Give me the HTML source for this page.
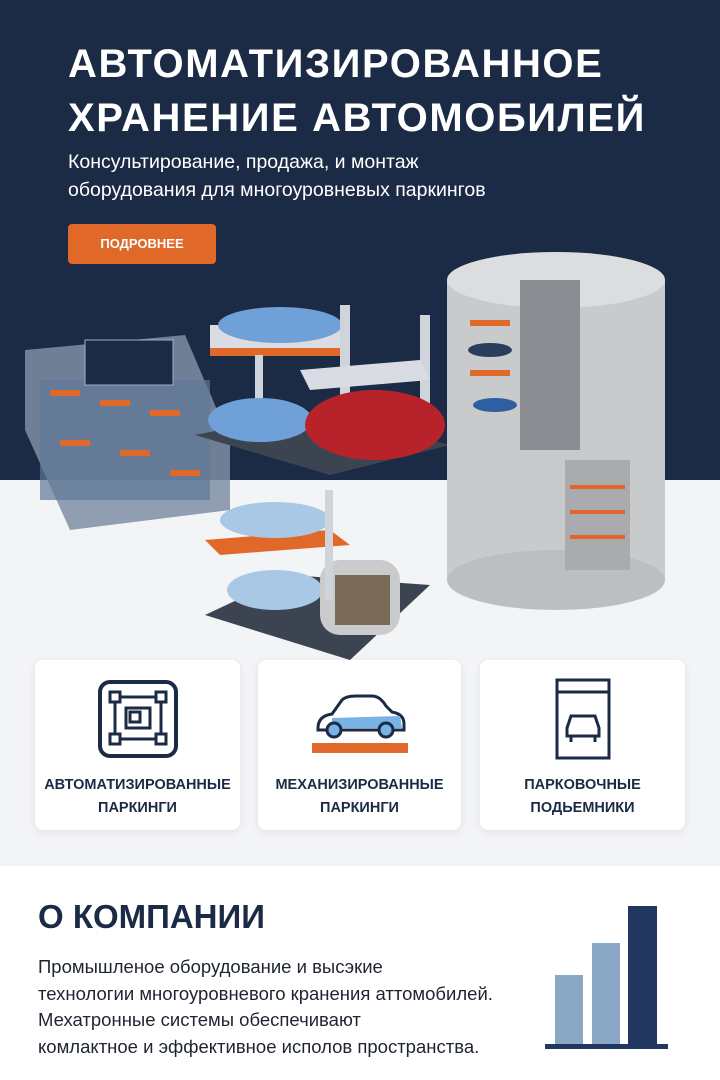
<!DOCTYPE html>
<html><head><meta charset="utf-8"><style>
*{margin:0;padding:0;box-sizing:border-box}
body{width:720px;height:1080px;overflow:hidden;font-family:"Liberation Sans","Noto Sans CJK SC",sans-serif;background:#fff;position:relative}
.hero{position:absolute;left:0;top:0;width:720px;height:480px;background:#1b2a45}
.mid{position:absolute;left:0;top:480px;width:720px;height:386px;background:#f3f4f6}
h1{position:absolute;left:68px;top:37px;color:#fff;font-size:40px;line-height:54px;font-weight:bold;letter-spacing:1.6px;white-space:nowrap}
.sub{position:absolute;left:68px;top:148px;color:#fff;font-size:19.5px;line-height:28px;white-space:nowrap}
.btn{position:absolute;left:68px;top:224px;width:148px;height:40px;background:#e0692a;border-radius:4px;color:#fff;font-size:13px;font-weight:bold;text-align:center;line-height:40px}
.card{position:absolute;top:660px;height:170px;background:#fff;border-radius:8px;box-shadow:0 2px 8px rgba(0,0,0,.08);text-align:center}
.card p{position:absolute;left:0;right:0;top:114px;font-size:14.5px;font-weight:bold;color:#1b2a45;line-height:23px}
.card svg{position:absolute;left:50%;transform:translateX(-50%);top:18px}
h2{position:absolute;left:38px;top:898px;font-size:33px;font-weight:bold;color:#1b2a45}
.txt{position:absolute;left:38px;top:954px;font-size:18.5px;line-height:26.5px;color:#1e2430;white-space:nowrap}
</style></head><body>
<div class="hero"></div><div class="mid"></div>
<h1>АВТОМАТИЗИРОВАННОЕ<br>ХРАНЕНИЕ АВТОМОБИЛЕЙ</h1>
<div class="sub">Консультирование, продажа, и монтаж<br>оборудования для многоуровневых паркингов</div>
<div class="btn">ПОДРОВНЕЕ</div>
<svg style="position:absolute;left:0;top:240px" width="720" height="420">
<polygon points="25,110 185,95 230,200 230,270 70,290 25,190" fill="#7c8ea5" opacity=".85"/>
<rect x="40" y="140" width="170" height="120" fill="#5f7896" opacity=".7"/>
<g fill="#e0692a"><rect x="50" y="150" width="30" height="6"/><rect x="100" y="160" width="30" height="6"/><rect x="150" y="170" width="30" height="6"/><rect x="60" y="200" width="30" height="6"/><rect x="120" y="210" width="30" height="6"/><rect x="170" y="230" width="30" height="6"/></g>
<rect x="85" y="100" width="88" height="45" fill="#1b2a45" stroke="#9fb0c5"/>
<polygon points="195,195 320,170 450,205 330,235" fill="#3c4452"/>
<rect x="210" y="85" width="140" height="30" fill="#d9dde3"/>
<rect x="210" y="108" width="140" height="8" fill="#e0692a"/>
<ellipse cx="280" cy="85" rx="62" ry="18" fill="#6fa0d8"/>
<rect x="255" y="115" width="8" height="60" fill="#cfd4da"/><rect x="340" y="65" width="10" height="110" fill="#cfd4da"/><rect x="420" y="75" width="10" height="110" fill="#cfd4da"/>
<polygon points="300,130 420,120 430,140 310,150" fill="#d9dde3"/>
<ellipse cx="260" cy="180" rx="52" ry="22" fill="#6fa0d8"/>
<ellipse cx="375" cy="185" rx="70" ry="35" fill="#b8232b"/>
<rect x="447" y="40" width="218" height="300" fill="#c8cacc"/>
<ellipse cx="556" cy="40" rx="109" ry="28" fill="#dcdddf"/>
<ellipse cx="556" cy="340" rx="109" ry="30" fill="#bcbec1"/>
<rect x="520" y="40" width="60" height="170" fill="#8a8d92"/>
<rect x="565" y="220" width="65" height="110" fill="#a9abae"/>
<g fill="#e0692a"><rect x="570" y="245" width="55" height="4"/><rect x="570" y="270" width="55" height="4"/><rect x="570" y="295" width="55" height="4"/><rect x="470" y="80" width="40" height="6"/><rect x="470" y="130" width="40" height="6"/></g>
<ellipse cx="490" cy="110" rx="22" ry="7" fill="#2b3d5c"/><ellipse cx="495" cy="165" rx="22" ry="7" fill="#2f5fa0"/>
<polygon points="205,375 290,335 430,345 350,420" fill="#3c4452"/>
<polygon points="205,300 330,290 350,305 220,315" fill="#e0692a"/>
<ellipse cx="275" cy="280" rx="55" ry="18" fill="#a9c8e6"/>
<ellipse cx="275" cy="350" rx="48" ry="20" fill="#a9c8e6"/>
<rect x="320" y="320" width="80" height="75" rx="20" fill="#c9cbcd"/>
<rect x="335" y="335" width="55" height="50" fill="#7a6a58"/>
<rect x="325" y="250" width="8" height="110" fill="#cfd4da"/>
</svg>
<div class="card" style="left:35px;width:205px"><svg width="84" height="80" viewBox="0 0 84 80"><rect x="4" y="4" width="76" height="74" rx="10" fill="none" stroke="#1b2a45" stroke-width="4"/><g fill="none" stroke="#1b2a45" stroke-width="3"><rect x="14" y="14" width="10" height="10"/><rect x="60" y="14" width="10" height="10"/><rect x="14" y="56" width="10" height="10"/><rect x="60" y="56" width="10" height="10"/><rect x="34" y="34" width="10" height="10"/><path d="M24 19H60M19 24V56M65 24V56M24 61H60M30 30H54V50H30Z"/></g></svg><p>АВТОМАТИЗИРОВАННЫЕ<br>ПАРКИНГИ</p></div>
<div class="card" style="left:258px;width:203px"><svg width="96" height="70" viewBox="0 0 96 70" style="top:28px"><path d="M6 40 Q6 28 20 26 L30 12 Q34 8 44 8 L60 8 Q68 8 74 18 L80 24 Q92 26 92 36 L92 42 L6 42Z" fill="#fff" stroke="#1b2a45" stroke-width="3"/><path d="M20 30 L88 28 L90 40 L20 40Z" fill="#79b3e6"/><circle cx="22" cy="42" r="7" fill="#79b3e6" stroke="#1b2a45" stroke-width="3"/><circle cx="74" cy="42" r="7" fill="#79b3e6" stroke="#1b2a45" stroke-width="3"/><rect x="0" y="55" width="96" height="10" fill="#e0692a"/></svg><p>МЕХАНИЗИРОВАННЫЕ<br>ПАРКИНГИ</p></div>
<div class="card" style="left:480px;width:205px"><svg width="56" height="82" viewBox="0 0 56 82"><rect x="2" y="2" width="52" height="78" fill="none" stroke="#1b2a45" stroke-width="3"/><line x1="2" y1="14" x2="54" y2="14" stroke="#1b2a45" stroke-width="3"/><g fill="none" stroke="#1b2a45" stroke-width="3"><path d="M12 50 L16 38 L40 38 L44 50 V58 H12Z"/><path d="M16 58V64M40 58V64"/></g></svg><p>ПАРКОВОЧНЫЕ<br>ПОДЬЕМНИКИ</p></div>
<h2>О КОМПАНИИ</h2>
<div class="txt">Промышленое оборудование и высэкие<br>технологии многоуровневого кранения аттомобилей.<br>Мехатронные системы обеспечивают<br>комлактное и эффективное исполов пространства.</div>
<div style="position:absolute;left:555px;top:975px;width:28px;height:70px;background:#8ba7c6"></div>
<div style="position:absolute;left:592px;top:943px;width:28px;height:102px;background:#8ba7c6"></div>
<div style="position:absolute;left:628px;top:906px;width:29px;height:139px;background:#22375f"></div>
<div style="position:absolute;left:545px;top:1044px;width:123px;height:5px;background:#22375f"></div>
</body></html>
